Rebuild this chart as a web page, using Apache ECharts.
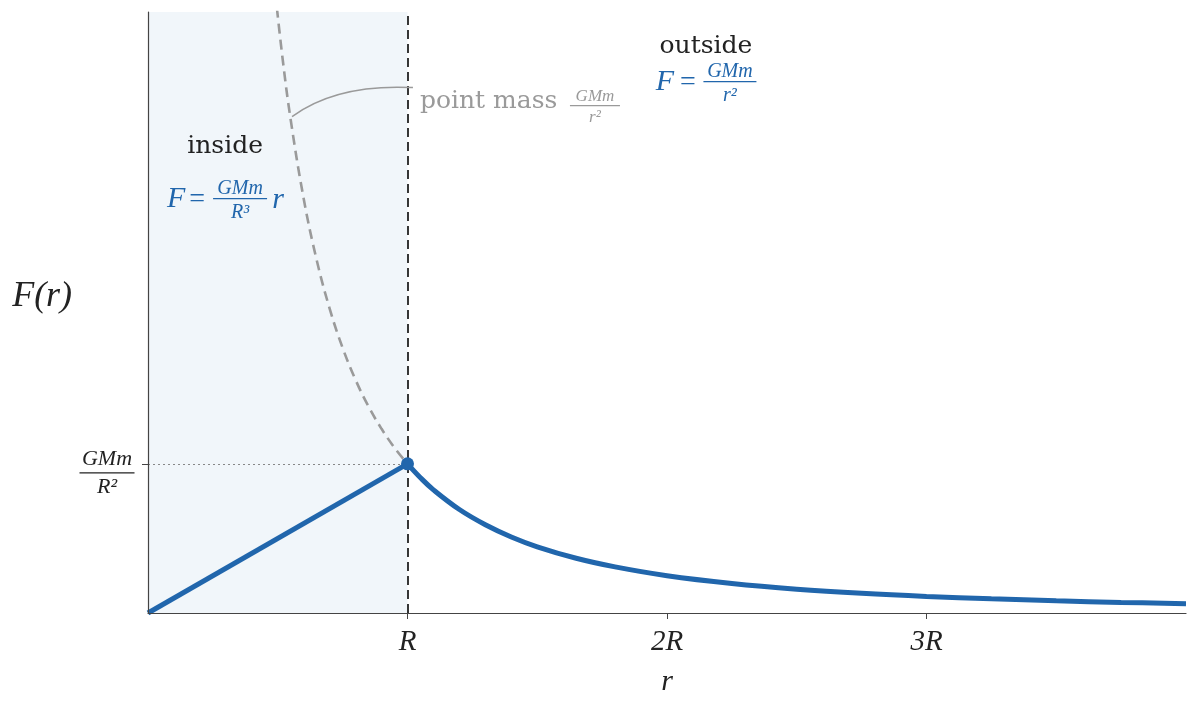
<!DOCTYPE html>
<html>
<head>
<meta charset="utf-8">
<script src="https://cdn.jsdelivr.net/npm/echarts@6/dist/echarts.min.js"></script>
<style>
  html, body { margin: 0; padding: 0; background: #fff; }
  #main { width: 1200px; height: 707px; }
</style>
</head>
<body>
<div id="main"></div>
<script>
// values (r in units of R, F in units of GMm/R^2)
var rTicks = [1, 2, 3];
var rTickLabels = ['R', '2R', '3R'];
var insideR = [0, 1];
var insideF = [0, 1];
var outsideR = [1, 1.05, 1.1, 1.2, 1.3, 1.4, 1.5, 1.65, 1.8, 2, 2.25, 2.5, 2.75, 3, 3.25, 3.5, 3.75, 4];
var outsideF = [1, 0.907, 0.826, 0.694, 0.592, 0.510, 0.444, 0.367, 0.309, 0.25, 0.198, 0.16, 0.132, 0.111, 0.095, 0.082, 0.071, 0.0625];
var pointMassR = [0.49, 0.52, 0.55, 0.6, 0.65, 0.7, 0.75, 0.8, 0.85, 0.9, 0.95, 1];
var pointMassF = [4.165, 3.698, 3.306, 2.778, 2.367, 2.041, 1.778, 1.563, 1.384, 1.235, 1.108, 1];
var surface = [1, 1];
var yMax = 4.03;

var BLUE = '#2166ac';
var GRAY = '#9a9a9a';
var MATH = 'Liberation Serif';
var TEXT = 'DejaVu Serif';

function pairs(xs, ys) {
  return xs.map(function (x, i) { return [x, ys[i]]; });
}

var chartDom = document.getElementById('main');
var myChart = echarts.init(chartDom);

var option = {
  animation: false,
  grid: { left: 148, right: 14, top: 12, bottom: 94, outerBoundsMode: 'none' },
  xAxis: {
    type: 'value',
    min: 0,
    max: 4,
    interval: 1,
    z: 10,
    splitLine: { show: false },
    axisLine: { show: true, lineStyle: { color: '#444', width: 1.2 } },
    axisTick: { show: true, customValues: rTicks, length: 6, lineStyle: { color: '#444' } },
    axisLabel: {
      customValues: rTicks,
      margin: 15,
      fontFamily: MATH,
      fontStyle: 'italic',
      fontSize: 29,
      color: '#222',
      formatter: function (v) { return rTickLabels[rTicks.indexOf(v)] || ''; }
    },
    name: 'r',
    nameLocation: 'middle',
    nameGap: 54,
    nameTextStyle: { fontFamily: MATH, fontStyle: 'italic', fontSize: 30, color: '#222' }
  },
  yAxis: {
    type: 'value',
    min: 0,
    max: yMax,
    z: 10,
    splitLine: { show: false },
    axisLine: { show: true, lineStyle: { color: '#444', width: 1.2 } },
    axisTick: { show: true, customValues: [1], length: 6, lineStyle: { color: '#444' } },
    axisLabel: {
      customValues: [1],
      margin: 41,
      align: 'center',
      padding: [18, 0, 0, 0],
      formatter: function () { return '{n|GMm}\n{b|}\n{d|R²}'; },
      rich: {
        n: { fontFamily: MATH, fontStyle: 'italic', fontSize: 22, color: '#222', lineHeight: 24, align: 'center' },
        b: { width: 55, height: 1.3, backgroundColor: '#222', lineHeight: 4, align: 'center' },
        d: { fontFamily: MATH, fontStyle: 'italic', fontSize: 22, color: '#222', lineHeight: 24, align: 'center' }
      }
    }
  },
  series: [
    {
      name: 'inside',
      type: 'line',
      data: pairs(insideR, insideF),
      showSymbol: false,
      lineStyle: { color: BLUE, width: 5 },
      z: 5,
      markArea: {
        silent: true,
        itemStyle: { color: '#f1f6fa' },
        data: [[{ xAxis: 0 }, { xAxis: 1 }]]
      },
      markLine: {
        silent: true,
        symbol: 'none',
        label: { show: false },
        data: [
          { xAxis: 1, lineStyle: { color: '#222', type: [9, 5], width: 1.8 } },
          [
            { coord: [0, 1], lineStyle: { color: '#888', type: [2, 3], width: 1 } },
            { coord: [1, 1] }
          ]
        ]
      }
    },
    {
      name: 'outside',
      type: 'line',
      data: pairs(outsideR, outsideF),
      smooth: 0.4,
      showSymbol: false,
      lineStyle: { color: BLUE, width: 5 },
      z: 5
    },
    {
      name: 'point mass',
      type: 'line',
      data: pairs(pointMassR, pointMassF),
      smooth: 0.4,
      showSymbol: false,
      lineStyle: { color: GRAY, width: 2.6, type: [10, 6] },
      z: 3
    },
    {
      name: 'surface',
      type: 'scatter',
      data: [surface],
      symbolSize: 13,
      itemStyle: { color: BLUE, opacity: 1 },
      z: 6
    }
  ]
};
myChart.setOption(option);

// annotations, anchored in data coordinates
function px(r, f) { return myChart.convertToPixel({ gridIndex: 0 }, [r, f]); }

function txt(x, y, s, size, color, family, italic, align) {
  return {
    type: 'text', x: x, y: y, z: 20,
    style: {
      text: s, fontSize: size, fill: color, fontFamily: family,
      fontStyle: italic ? 'italic' : 'normal',
      align: align || 'center', verticalAlign: 'middle'
    }
  };
}

function frac(cx, cy, num, den, size, width, color) {
  return [
    txt(cx, cy - size * 0.5, num, size, color, MATH, true),
    { type: 'rect', z: 20, shape: { x: cx - width / 2, y: cy - 0.6, width: width, height: 1.4 }, style: { fill: color } },
    txt(cx, cy + size * 0.7, den, size, color, MATH, true)
  ];
}

var a0 = px(-0.408, 2.121);
var a1 = px(0.297, 3.128);
var a2 = px(0.297, 2.779);
var a3 = px(2.15, 3.799);
var a4 = px(2.15, 3.564);
var a5 = px(1.048, 3.43);
var c0 = px(0.555, 3.329);
var c1 = px(1.021, 3.523);

var g = [];
g.push(txt(a0[0], a0[1], 'F(r)', 36, '#222', MATH, true));

g.push(txt(a1[0], a1[1], 'inside', 25, '#222', TEXT, false));
g.push(txt(a2[0] - 49, a2[1] + 1, 'F', 30, BLUE, MATH, true));
g.push(txt(a2[0] - 28, a2[1] + 1, '=', 28, BLUE, MATH, false));
g = g.concat(frac(a2[0] + 15, a2[1], 'GMm', 'R³', 20, 54, BLUE));
g.push(txt(a2[0] + 53, a2[1] + 2, 'r', 30, BLUE, MATH, true));

g.push(txt(a3[0], a3[1], 'outside', 25, '#222', TEXT, false));
g.push(txt(a4[0] - 41, a4[1] + 1, 'F', 30, BLUE, MATH, true));
g.push(txt(a4[0] - 18, a4[1] + 1, '=', 28, BLUE, MATH, false));
g = g.concat(frac(a4[0] + 24, a4[1], 'GMm', 'r²', 20, 53, BLUE));

g.push(txt(a5[0], a5[1], 'point mass', 25, GRAY, TEXT, false, 'left'));
g = g.concat(frac(a5[0] + 175, a5[1] + 4, 'GMm', 'r²', 17, 50, GRAY));
g.push({
  type: 'bezierCurve', z: 20,
  shape: { x1: c0[0], y1: c0[1], x2: c1[0], y2: c1[1], cpx1: c0[0] + 45, cpy1: c1[1] - 4 },
  style: { stroke: GRAY, lineWidth: 1.5, fill: 'none' }
});

myChart.setOption({ graphic: g });

window.addEventListener('resize', myChart.resize);
</script>
</body>
</html>
